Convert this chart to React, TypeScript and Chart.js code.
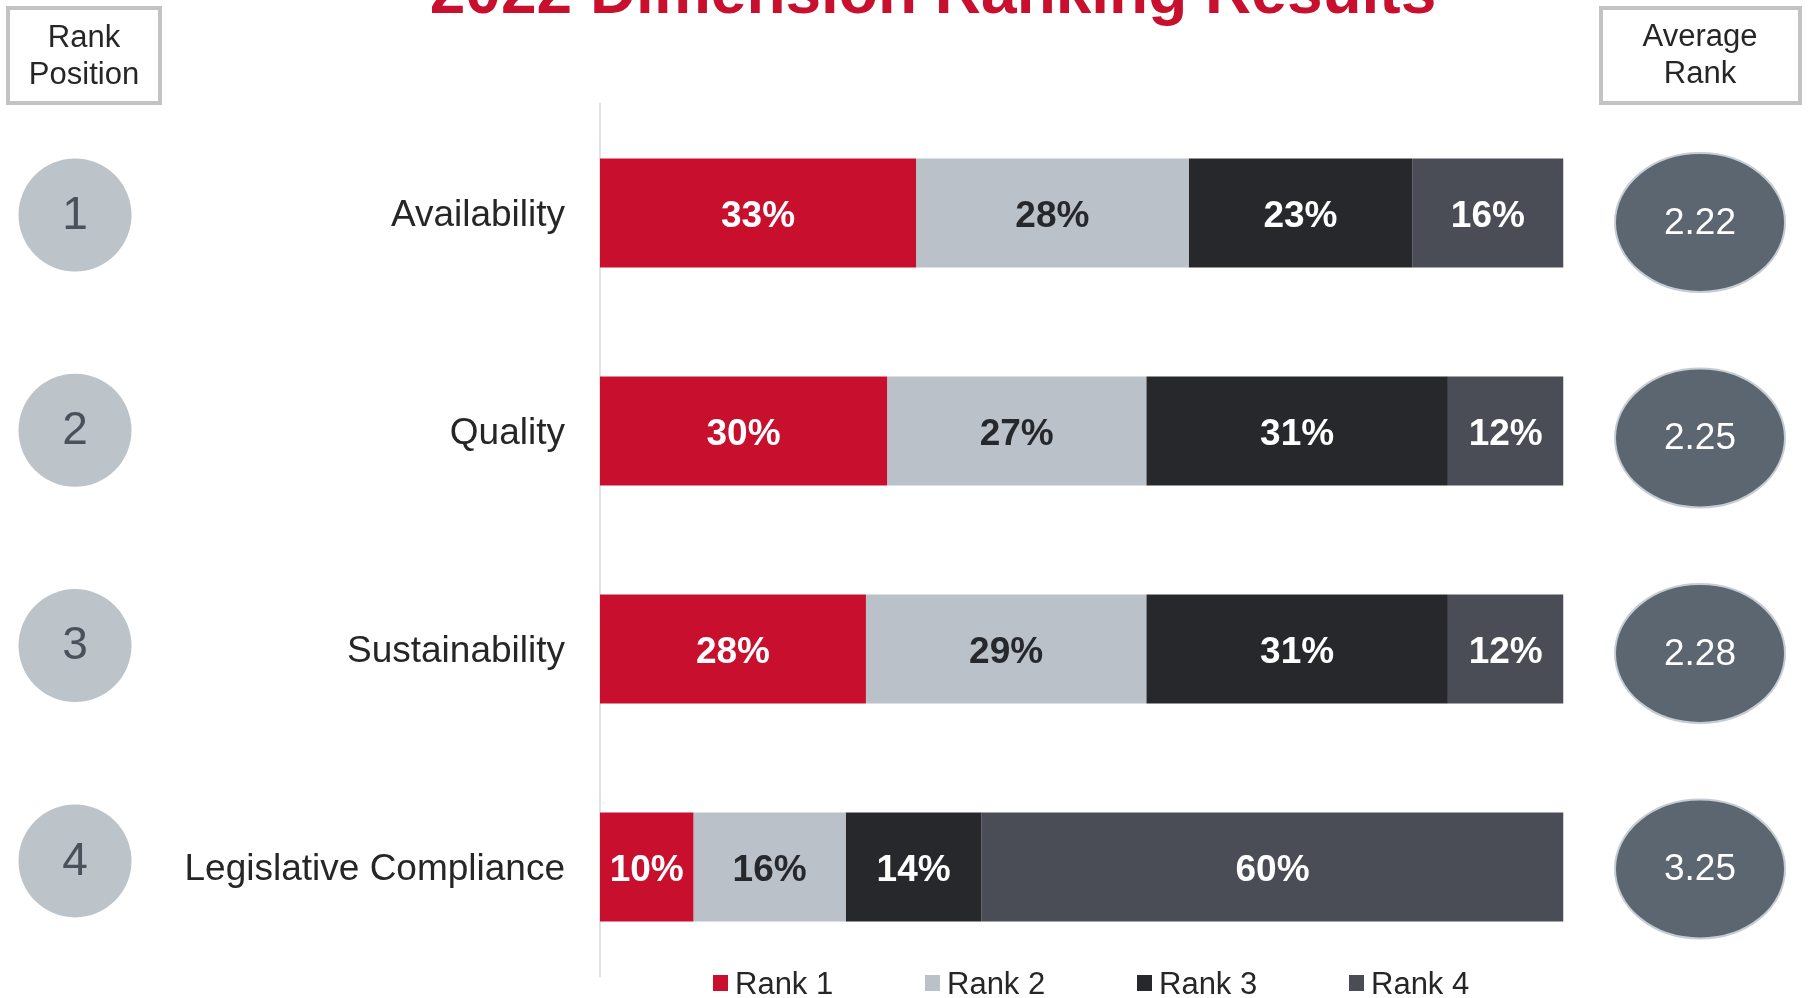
import { useEffect, useRef } from "react";
import { Chart, registerables } from "chart.js";

Chart.register(...registerables);

const title = "2022 Dimension Ranking Results";
const categories = ["Availability", "Quality", "Sustainability", "Legislative Compliance"];
const seriesNames = ["Rank 1", "Rank 2", "Rank 3", "Rank 4"];
const rank1 = [32.8, 29.8, 27.6, 9.7];
const rank2 = [28.3, 26.9, 29.1, 15.8];
const rank3 = [23.2, 31.3, 31.3, 14.1];
const rank4 = [15.7, 12.0, 12.0, 60.4];
const rankPositions = ["1", "2", "3", "4"];
const averageRanks = [2.22, 2.25, 2.28, 3.25];
const leftHeader = ["Rank", "Position"];
const rightHeader = ["Average", "Rank"];

const fills = ["#c8102e", "#bac1c8", "#27282c", "#4a4d55"];
const labelColors = ["#ffffff", "#27282c", "#ffffff", "#ffffff"];
const FONT = "'Liberation Sans', Arial, sans-serif";

function drawText(
  ctx: CanvasRenderingContext2D,
  text: string,
  x: number,
  y: number,
  font: string,
  color: string,
  align: CanvasTextAlign,
  baseline: CanvasTextBaseline = "middle"
) {
  ctx.save();
  ctx.font = font;
  ctx.fillStyle = color;
  ctx.textAlign = align;
  ctx.textBaseline = baseline;
  ctx.fillText(text, x, y);
  ctx.restore();
}

const decorPlugin = {
  id: "decor",
  afterDatasetsDraw(chart: any) {
    const ctx = chart.ctx as CanvasRenderingContext2D;
    chart.data.datasets.forEach((ds: any, di: number) => {
      const meta = chart.getDatasetMeta(di);
      meta.data.forEach((el: any, i: number) => {
        const p = el.getProps(["x", "base", "y"], true);
        const v = ds.data[i] as number;
        drawText(
          ctx,
          Math.round(v) + "%",
          (p.x + p.base) / 2,
          p.y + 4,
          `bold 37px ${FONT}`,
          labelColors[di],
          "center"
        );
      });
    });
  },
  afterDraw(chart: any) {
    const ctx = chart.ctx as CanvasRenderingContext2D;
    const yScale = chart.scales.y;
    const area = chart.chartArea;

    // Title
    drawText(ctx, title, 933, 13, `bold 64px ${FONT}`, "#c8102e", "center", "alphabetic");

    // Header boxes
    ctx.save();
    ctx.strokeStyle = "#c3c3c3";
    ctx.lineWidth = 4;
    ctx.strokeRect(8, 8, 152, 95);
    ctx.strokeRect(1601, 8, 199, 95);
    ctx.restore();
    drawText(ctx, leftHeader[0], 84, 38, `31px ${FONT}`, "#262626", "center");
    drawText(ctx, leftHeader[1], 84, 75, `31px ${FONT}`, "#262626", "center");
    drawText(ctx, rightHeader[0], 1700, 37, `31px ${FONT}`, "#262626", "center");
    drawText(ctx, rightHeader[1], 1700, 74, `31px ${FONT}`, "#262626", "center");

    categories.forEach((_, i) => {
      const yc = yScale.getPixelForValue(i);
      // Left rank circles
      const ly = yc + 2 - i * 2.7;
      ctx.save();
      ctx.beginPath();
      ctx.ellipse(75, ly, 56.5, 56.5, 0, 0, Math.PI * 2);
      ctx.fillStyle = "#bcc3c9";
      ctx.fill();
      ctx.restore();
      drawText(ctx, rankPositions[i], 75, ly + 1, `46px ${FONT}`, "#4b505a", "center");

      // Right average ellipses
      const ry = yc + 2 + (3 - i) * 2.5;
      ctx.save();
      ctx.beginPath();
      ctx.ellipse(1700, ry, 85, 69.5, 0, 0, Math.PI * 2);
      ctx.fillStyle = "#5b6670";
      ctx.fill();
      ctx.lineWidth = 2;
      ctx.strokeStyle = "#c5ccd3";
      ctx.stroke();
      ctx.restore();
      drawText(ctx, averageRanks[i].toFixed(2), 1700, ry + 1, `37px ${FONT}`, "#ffffff", "center");
    });

    // Legend
    const lx0 = area.left + 113;
    seriesNames.forEach((name, i) => {
      const x = lx0 + i * 212;
      ctx.save();
      ctx.fillStyle = fills[i];
      ctx.fillRect(x, 975, 15, 16);
      ctx.restore();
      drawText(ctx, name, x + 22, 985, `31px ${FONT}`, "#262626", "left");
    });
  },
};

export default function App() {
  const ref = useRef<HTMLCanvasElement>(null);

  useEffect(() => {
    const seriesValues = [rank1, rank2, rank3, rank4];
    const chart = new Chart(ref.current as HTMLCanvasElement, {
      type: "bar",
      data: {
        labels: categories,
        datasets: seriesNames.map((name, i) => ({
          label: name,
          data: seriesValues[i],
          backgroundColor: fills[i],
          borderWidth: 0,
          barPercentage: 0.5,
          categoryPercentage: 1,
        })),
      },
      options: {
        indexAxis: "y",
        responsive: false,
        animation: false,
        devicePixelRatio: 1,
        layout: { padding: { top: 104, bottom: 22, left: 0, right: 248.5 } },
        plugins: {
          legend: { display: false },
          tooltip: { enabled: false },
          title: { display: false },
        },
        scales: {
          x: { stacked: true, min: 0, max: 100, display: false },
          y: {
            stacked: true,
            grid: { display: false, drawTicks: false },
            border: { display: true, color: "#e3e3e3", width: 2 },
            ticks: {
              padding: 35,
              labelOffset: 3,
              color: "#262626",
              font: { family: "'Liberation Sans', Arial, sans-serif", size: 37 },
            },
            afterFit: (scale: any) => {
              scale.width = 600;
              scale.paddingTop = 0;
              scale.paddingBottom = 0;
            },
          },
        },
      } as any,
      plugins: [decorPlugin],
    });
    return () => chart.destroy();
  }, []);

  return (
    <div style={{ position: "absolute", left: 0, top: 0, width: 1812, height: 998, background: "#ffffff" }}>
      <canvas ref={ref} width={1812} height={998} style={{ display: "block", width: 1812, height: 998 }} />
    </div>
  );
}
